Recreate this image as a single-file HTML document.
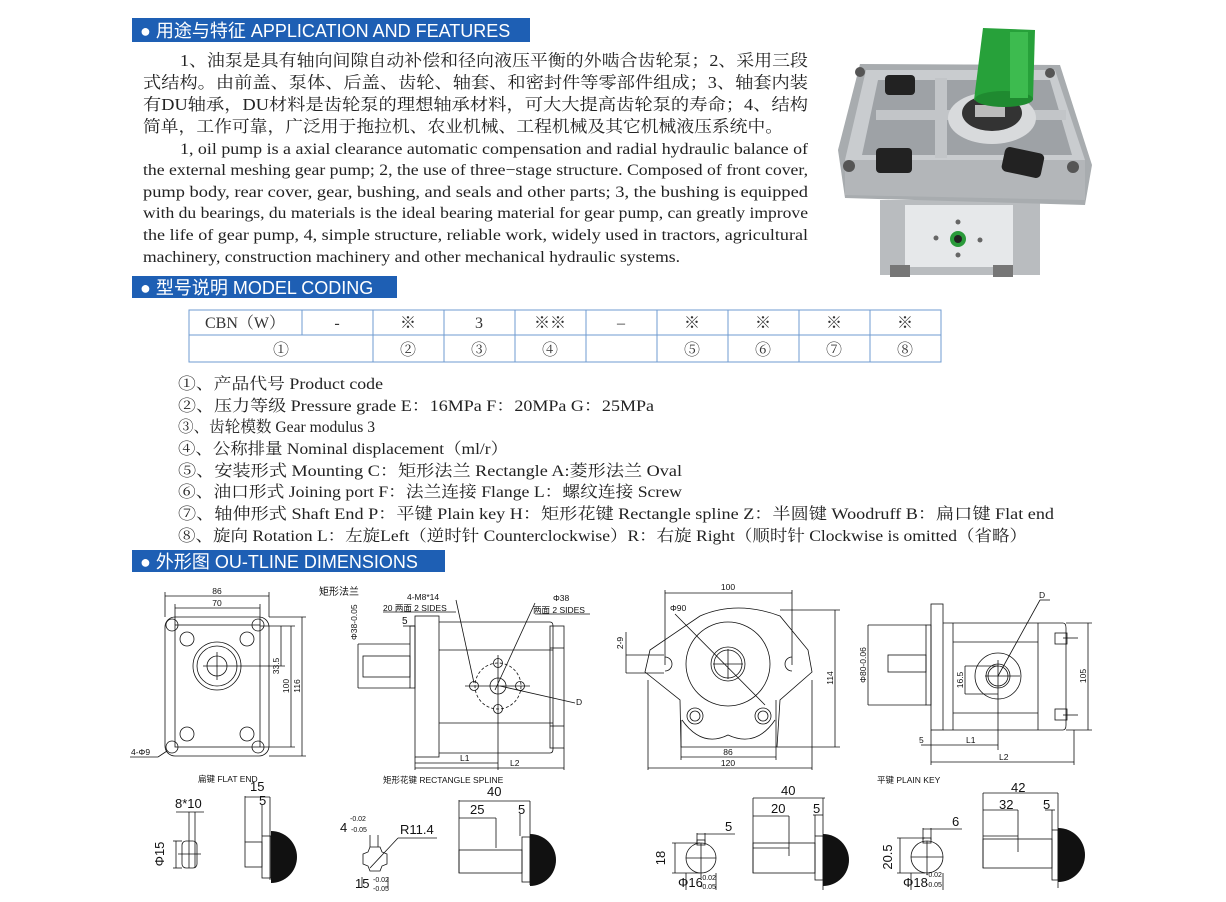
<!DOCTYPE html>
<html><head><meta charset="utf-8"><style>
html,body{margin:0;padding:0;background:#fff;width:1226px;height:902px;overflow:hidden}
svg{display:block}
.hd{font-family:"Liberation Sans","Noto Sans CJK SC",sans-serif;fill:#fff;font-size:18px}
.cn{font-family:"Liberation Serif","Noto Serif CJK SC",serif;font-size:16.5px;fill:#222}
.en{font-family:"Liberation Serif","Noto Serif CJK SC",serif;font-size:16px;fill:#222}
.tb{font-family:"Liberation Serif","Noto Serif CJK SC",serif;font-size:16px;fill:#333}
.s{font-family:"Liberation Sans","Noto Sans CJK SC",sans-serif;font-size:8.5px;fill:#111}
.m{font-family:"Liberation Sans","Noto Sans CJK SC",sans-serif;font-size:13px;fill:#111}
.d line,.d rect,.d circle,.d path,.d polyline{stroke:#111;stroke-width:0.8;fill:none}
</style></head><body>
<svg width="1226" height="902" viewBox="0 0 1226 902" xmlns="http://www.w3.org/2000/svg">
<rect x="132" y="18" width="398" height="24" fill="#1e5fb4"/>
<text class="hd" x="140" y="37">● 用途与特征  APPLICATION AND FEATURES</text>
<rect x="132" y="276" width="265" height="22" fill="#1e5fb4"/>
<text class="hd" x="140" y="294">● 型号说明  MODEL CODING</text>
<rect x="132" y="550" width="313" height="22" fill="#1e5fb4"/>
<text class="hd" x="140" y="568">● 外形图  OU-TLINE DIMENSIONS</text>

<text class="cn" x="180" y="66" textLength="628" lengthAdjust="spacingAndGlyphs">1、油泵是具有轴向间隙自动补偿和径向液压平衡的外啮合齿轮泵；2、采用三段</text>
<text class="cn" x="143" y="88" textLength="665" lengthAdjust="spacingAndGlyphs">式结构。由前盖、泵体、后盖、齿轮、轴套、和密封件等零部件组成；3、轴套内装</text>
<text class="cn" x="143" y="110" textLength="665" lengthAdjust="spacingAndGlyphs">有DU轴承，DU材料是齿轮泵的理想轴承材料，可大大提高齿轮泵的寿命；4、结构</text>
<text class="cn" x="143" y="132" textLength="640" lengthAdjust="spacingAndGlyphs">简单，工作可靠，广泛用于拖拉机、农业机械、工程机械及其它机械液压系统中。</text>
<text class="en" x="180" y="154" textLength="628" lengthAdjust="spacingAndGlyphs">1, oil pump is a axial clearance automatic compensation and radial hydraulic balance of</text>
<text class="en" x="143" y="175" textLength="665" lengthAdjust="spacingAndGlyphs">the external meshing gear pump; 2, the use of three−stage structure. Composed of front cover,</text>
<text class="en" x="143" y="197" textLength="665" lengthAdjust="spacingAndGlyphs">pump body, rear cover, gear, bushing, and seals and other parts; 3, the bushing is equipped</text>
<text class="en" x="143" y="218" textLength="665" lengthAdjust="spacingAndGlyphs">with du bearings, du materials is the ideal bearing material for gear pump, can greatly improve</text>
<text class="en" x="143" y="240" textLength="665" lengthAdjust="spacingAndGlyphs">the life of gear pump, 4, simple structure, reliable work, widely used in tractors, agricultural</text>
<text class="en" x="143" y="262" textLength="537" lengthAdjust="spacingAndGlyphs">machinery, construction machinery and other mechanical hydraulic systems.</text>

<g>
<rect x="880" y="200" width="160" height="75" fill="#b9bcbf"/>
<rect x="905" y="205" width="108" height="62" fill="#e6e8ea"/>
<rect x="890" y="265" width="20" height="12" fill="#777"/><rect x="993" y="265" width="20" height="12" fill="#777"/>
<path d="M860 64 L1060 65 L1092 165 L1085 205 L845 198 L838 150 Z" fill="#a8acaf"/>
<path d="M866 70 L1055 70 L1085 160 L845 160 Z" fill="#c9cccf"/>
<path d="M845 160 L1085 160 L1085 200 L845 195 Z" fill="#b3b6b9"/>
<path d="M878 80 L1050 80 L1072 155 L862 155 Z" fill="#9ea2a6"/>
<rect x="876" y="110" width="190" height="10" fill="#c2c5c8"/>
<rect x="935" y="78" width="12" height="80" fill="#c2c5c8"/>
<rect x="885" y="75" width="30" height="20" rx="4" fill="#222"/>
<rect x="876" y="148" width="36" height="25" rx="4" fill="#222"/>
<rect x="1003" y="150" width="40" height="25" rx="5" fill="#222" transform="rotate(12 1023 162)"/>
<ellipse cx="992" cy="118" rx="44" ry="26" fill="#d8dadc"/>
<ellipse cx="992" cy="113" rx="30" ry="18" fill="#333"/>
<rect x="975" y="105" width="30" height="12" fill="#bbb"/>
<path d="M983 28 L1035 30 L1033 100 Q1008 110 974 100 Z" fill="#27a13a"/>
<ellipse cx="1004" cy="99" rx="29" ry="8" fill="#1f8a30"/>
<rect x="1010" y="32" width="18" height="66" fill="#3dbb4f"/>
<circle cx="958" cy="239" r="8" fill="#2a9a3a"/><circle cx="958" cy="239" r="4" fill="#222"/>
<circle cx="958" cy="222" r="2.5" fill="#666"/><circle cx="958" cy="255" r="2.5" fill="#666"/>
<circle cx="936" cy="238" r="2.5" fill="#666"/><circle cx="980" cy="240" r="2.5" fill="#666"/>
<circle cx="860" cy="72" r="5" fill="#555"/><circle cx="1050" cy="73" r="5" fill="#555"/>
<circle cx="849" cy="166" r="6" fill="#555"/><circle cx="1073" cy="167" r="6" fill="#555"/>
</g>

<g stroke="#6f9bd0" stroke-width="1" fill="none">
<rect x="189" y="310" width="752" height="52"/>
<line x1="189" y1="335" x2="941" y2="335"/>
<line x1="302" y1="310" x2="302" y2="335"/>
<line x1="373" y1="310" x2="373" y2="362"/><line x1="444" y1="310" x2="444" y2="362"/>
<line x1="515" y1="310" x2="515" y2="362"/><line x1="586" y1="310" x2="586" y2="362"/>
<line x1="657" y1="310" x2="657" y2="362"/><line x1="728" y1="310" x2="728" y2="362"/>
<line x1="799" y1="310" x2="799" y2="362"/><line x1="870" y1="310" x2="870" y2="362"/>
</g>
<g class="tb" text-anchor="middle">
<text x="245" y="328">CBN（W）</text><text x="337" y="328">-</text><text x="408" y="328">※</text><text x="479" y="328">3</text>
<text x="550" y="328">※※</text><text x="621" y="328">–</text><text x="692" y="328">※</text><text x="763" y="328">※</text>
<text x="834" y="328">※</text><text x="905" y="328">※</text>
<text x="281" y="355">①</text><text x="408" y="355">②</text><text x="479" y="355">③</text><text x="550" y="355">④</text>
<text x="692" y="355">⑤</text><text x="763" y="355">⑥</text><text x="834" y="355">⑦</text><text x="905" y="355">⑧</text>
</g>

<g class="en">
<text x="178" y="389" textLength="205" lengthAdjust="spacingAndGlyphs">①、产品代号 Product code</text>
<text x="178" y="411" textLength="476" lengthAdjust="spacingAndGlyphs">②、压力等级 Pressure grade E：16MPa  F：20MPa  G：25MPa</text>
<text x="178" y="432" textLength="197" lengthAdjust="spacingAndGlyphs">③、齿轮模数 Gear modulus 3</text>
<text x="178" y="454" textLength="330" lengthAdjust="spacingAndGlyphs">④、公称排量 Nominal displacement（ml/r）</text>
<text x="178" y="476" textLength="504" lengthAdjust="spacingAndGlyphs">⑤、安装形式 Mounting  C：矩形法兰 Rectangle   A:菱形法兰 Oval</text>
<text x="178" y="497" textLength="504" lengthAdjust="spacingAndGlyphs">⑥、油口形式 Joining port F：法兰连接 Flange L：螺纹连接 Screw</text>
<text x="178" y="519" textLength="876" lengthAdjust="spacingAndGlyphs">⑦、轴伸形式 Shaft End  P：平键 Plain key  H：矩形花键 Rectangle spline  Z：半圆键 Woodruff  B：扁口键 Flat end</text>
<text x="178" y="541" textLength="849" lengthAdjust="spacingAndGlyphs">⑧、旋向 Rotation L：左旋Left（逆时针 Counterclockwise）R：右旋 Right（顺时针 Clockwise is omitted（省略）</text>
</g>

<g class="d">
<rect x="165" y="617" width="104" height="139" rx="10"/>
<rect x="175" y="625" width="85" height="122"/>
<circle cx="172" cy="625" r="6"/><circle cx="258" cy="625" r="6"/><circle cx="172" cy="747" r="6"/><circle cx="258" cy="747" r="6"/>
<circle cx="187" cy="639" r="7"/><circle cx="247" cy="639" r="7"/><circle cx="187" cy="734" r="7"/><circle cx="247" cy="734" r="7"/>
<circle cx="217" cy="666" r="24"/><circle cx="217" cy="666" r="20"/><circle cx="217" cy="666" r="10"/>
<line x1="203" y1="666" x2="231" y2="666"/><line x1="217" y1="652" x2="217" y2="680"/>
<line x1="165" y1="596" x2="269" y2="596"/><line x1="165" y1="592" x2="165" y2="617"/><line x1="269" y1="592" x2="269" y2="617"/>
<line x1="175" y1="608" x2="260" y2="608"/><line x1="175" y1="604" x2="175" y2="625"/><line x1="260" y1="604" x2="260" y2="625"/>
<line x1="281" y1="626" x2="281" y2="666"/><line x1="291" y1="626" x2="291" y2="747"/><line x1="302" y1="617" x2="302" y2="756"/>
<line x1="260" y1="626" x2="295" y2="626"/><line x1="231" y1="666" x2="285" y2="666"/><line x1="260" y1="747" x2="295" y2="747"/><line x1="269" y1="617" x2="306" y2="617"/><line x1="269" y1="756" x2="306" y2="756"/>
<line x1="130" y1="757" x2="158" y2="757"/><line x1="158" y1="757" x2="167" y2="751"/>
<rect x="415" y="616" width="24" height="141"/>
<rect x="410" y="626" width="5" height="62"/>
<rect x="363" y="656" width="47" height="21"/>
<line x1="358" y1="644" x2="410" y2="644"/><line x1="358" y1="688" x2="410" y2="688"/><line x1="358" y1="644" x2="358" y2="688"/>
<path d="M439 622 L550 622 Q553 622 553 626 L553 749 Q553 753 550 753 L439 753"/>
<line x1="439" y1="650" x2="553" y2="650"/><line x1="439" y1="723" x2="553" y2="723"/>
<rect x="550" y="626" width="14" height="122"/>
<line x1="550" y1="648" x2="564" y2="648"/><line x1="550" y1="726" x2="564" y2="726"/>
<circle cx="498" cy="686" r="23" stroke-dasharray="3,2"/>
<circle cx="498" cy="686" r="8"/><circle cx="498" cy="663" r="4.5"/><circle cx="474" cy="686" r="4.5"/><circle cx="520" cy="686" r="4.5"/><circle cx="498" cy="709" r="4.5"/>
<line x1="498" y1="655" x2="498" y2="770"/><line x1="465" y1="686" x2="530" y2="686"/>
<line x1="456" y1="600" x2="474" y2="683"/><line x1="535" y1="603" x2="495" y2="690"/>
<line x1="383" y1="612" x2="456" y2="612"/><line x1="535" y1="614" x2="590" y2="614"/>
<line x1="500" y1="686" x2="575" y2="703"/>
<line x1="415" y1="763" x2="498" y2="763"/><line x1="415" y1="768" x2="564" y2="768"/><line x1="415" y1="757" x2="415" y2="770"/><line x1="564" y1="748" x2="564" y2="770"/>
<line x1="403" y1="626" x2="415" y2="626"/>
<rect x="182" y="841" width="15" height="27" rx="4"/>
<line x1="178" y1="854" x2="201" y2="854"/><line x1="189" y1="812" x2="189" y2="868"/><line x1="195" y1="812" x2="195" y2="868"/>
<line x1="173" y1="841" x2="182" y2="841"/><line x1="173" y1="868" x2="182" y2="868"/><line x1="176" y1="841" x2="176" y2="868"/>
<line x1="176" y1="812" x2="204" y2="812"/>
<rect x="245" y="842" width="17" height="25"/><rect x="262" y="836" width="9" height="42"/>
<line x1="245" y1="796" x2="245" y2="842"/><line x1="245" y1="797" x2="270" y2="797"/><line x1="262" y1="805" x2="262" y2="836"/><line x1="270" y1="797" x2="270" y2="880"/>
<path d="M370 847 L380 847 L382 852 L387 854 L387 864 L382 866 L380 871 L370 871 L368 866 L363 864 L363 854 L368 852 Z"/>
<line x1="370" y1="835" x2="370" y2="847"/><line x1="378" y1="835" x2="378" y2="847"/>
<line x1="362" y1="877" x2="362" y2="888"/><line x1="388" y1="877" x2="388" y2="888"/>
<line x1="370" y1="868" x2="398" y2="838"/><line x1="398" y1="838" x2="437" y2="838"/>
<rect x="459" y="850" width="63" height="23"/>
<line x1="459" y1="800" x2="459" y2="873"/><line x1="459" y1="801" x2="530" y2="801"/><line x1="459" y1="818" x2="496" y2="818"/><line x1="496" y1="818" x2="496" y2="848"/>
<rect x="522" y="837" width="8" height="45"/><line x1="520" y1="814" x2="520" y2="836"/><line x1="530" y1="801" x2="530" y2="885"/>
<path d="M650 650 L700 616 Q737 600 780 616 L808 650 L812 672 L780 700 L777 747 L681 747 L680 700 L645 672 Z"/>
<path d="M682 720 Q702 748 728 735 Q756 748 775 720"/>
<circle cx="728" cy="664" r="42"/><circle cx="728" cy="664" r="17"/><circle cx="728" cy="664" r="14"/>
<line x1="713" y1="664" x2="743" y2="664"/><line x1="728" y1="649" x2="728" y2="679"/>
<line x1="675" y1="614" x2="765" y2="705"/>
<path d="M665 657 A7 7 0 0 1 665 671 M792 657 A7 7 0 0 0 792 671"/>
<circle cx="695" cy="716" r="8"/><circle cx="695" cy="716" r="5"/><circle cx="763" cy="716" r="8"/><circle cx="763" cy="716" r="5"/>
<line x1="665" y1="593" x2="792" y2="593"/><line x1="665" y1="590" x2="665" y2="665"/><line x1="792" y1="590" x2="792" y2="665"/>
<line x1="780" y1="610" x2="840" y2="610"/><line x1="835" y1="610" x2="835" y2="747"/><line x1="777" y1="747" x2="840" y2="747"/>
<line x1="681" y1="757" x2="776" y2="757"/><line x1="681" y1="720" x2="681" y2="760"/><line x1="776" y1="700" x2="776" y2="760"/>
<line x1="648" y1="768" x2="812" y2="768"/><line x1="648" y1="680" x2="648" y2="770"/><line x1="812" y1="680" x2="812" y2="770"/>
<line x1="626" y1="655" x2="664" y2="655"/><line x1="626" y1="673" x2="664" y2="673"/><line x1="626" y1="632" x2="626" y2="673"/>
<rect x="931" y="604" width="12" height="126"/>
<rect x="926" y="625" width="5" height="80"/>
<rect x="888" y="655" width="38" height="17"/>
<path d="M943 623 L1063 623 Q1066 623 1066 628 L1066 725 Q1066 730 1063 730 L943 730"/>
<line x1="953" y1="623" x2="953" y2="730"/><line x1="1038" y1="623" x2="1038" y2="730"/>
<line x1="953" y1="642" x2="1038" y2="642"/><line x1="953" y1="713" x2="1038" y2="713"/>
<rect x="1055" y="633" width="12" height="11"/><rect x="1055" y="709" width="12" height="11"/>
<line x1="1063" y1="638" x2="1078" y2="638"/><line x1="1063" y1="715" x2="1078" y2="715"/>
<circle cx="998" cy="676" r="23"/><circle cx="998" cy="676" r="12"/><circle cx="998" cy="676" r="10"/>
<line x1="985" y1="676" x2="1020" y2="676"/><line x1="998" y1="660" x2="998" y2="750"/>
<line x1="998" y1="676" x2="1040" y2="600"/><line x1="1040" y1="600" x2="1050" y2="600"/>
<line x1="868" y1="625" x2="926" y2="625"/><line x1="868" y1="705" x2="926" y2="705"/><line x1="868" y1="625" x2="868" y2="705"/>
<line x1="965" y1="666" x2="998" y2="666"/><line x1="965" y1="694" x2="998" y2="694"/><line x1="965" y1="666" x2="965" y2="694"/>
<line x1="1066" y1="623" x2="1092" y2="623"/><line x1="1066" y1="730" x2="1092" y2="730"/><line x1="1088" y1="623" x2="1088" y2="730"/>
<line x1="931" y1="745" x2="998" y2="745"/><line x1="931" y1="762" x2="1074" y2="762"/><line x1="931" y1="730" x2="931" y2="765"/><line x1="1074" y1="730" x2="1074" y2="765"/>
<line x1="921" y1="745" x2="931" y2="745"/>
<circle cx="701" cy="858" r="15"/><rect x="697" y="840" width="8" height="5"/>
<line x1="686" y1="858" x2="716" y2="858"/><line x1="701" y1="843" x2="701" y2="877"/>
<line x1="697" y1="833" x2="697" y2="843"/><line x1="705" y1="833" x2="705" y2="843"/><line x1="697" y1="834" x2="735" y2="834"/>
<line x1="672" y1="843" x2="700" y2="843"/><line x1="672" y1="873" x2="700" y2="873"/><line x1="675" y1="843" x2="675" y2="873"/>
<line x1="686" y1="873" x2="686" y2="890"/><line x1="716" y1="873" x2="716" y2="890"/>
<rect x="753" y="843" width="62" height="30"/><line x1="753" y1="798" x2="753" y2="873"/><line x1="753" y1="798" x2="825" y2="798"/>
<line x1="753" y1="816" x2="789" y2="816"/><line x1="789" y1="816" x2="789" y2="856"/><line x1="753" y1="848" x2="789" y2="848"/>
<rect x="815" y="836" width="8" height="44"/><line x1="813" y1="815" x2="823" y2="815"/><line x1="815" y1="815" x2="815" y2="836"/><line x1="823" y1="798" x2="823" y2="890"/>
<circle cx="927" cy="857" r="16"/><rect x="923" y="838" width="8" height="5"/>
<line x1="911" y1="857" x2="943" y2="857"/><line x1="927" y1="841" x2="927" y2="875"/>
<line x1="923" y1="828" x2="923" y2="840"/><line x1="931" y1="828" x2="931" y2="840"/><line x1="923" y1="829" x2="962" y2="829"/>
<line x1="897" y1="838" x2="925" y2="838"/><line x1="897" y1="873" x2="925" y2="873"/><line x1="900" y1="838" x2="900" y2="873"/>
<line x1="911" y1="873" x2="911" y2="890"/><line x1="943" y1="873" x2="943" y2="890"/>
<rect x="983" y="839" width="69" height="29"/><line x1="983" y1="793" x2="983" y2="868"/><line x1="983" y1="793" x2="1058" y2="793"/>
<line x1="983" y1="810" x2="1018" y2="810"/><line x1="1018" y1="810" x2="1018" y2="852"/><line x1="983" y1="836" x2="1018" y2="836"/>
<rect x="1052" y="830" width="6" height="50"/><line x1="1045" y1="810" x2="1055" y2="810"/><line x1="1052" y1="810" x2="1052" y2="830"/><line x1="1058" y1="793" x2="1058" y2="888"/>
</g>
<path d="M271 831 A26 26 0 0 1 271 883 Z" fill="#111"/>
<path d="M530 834 A26 26 0 0 1 530 886 Z" fill="#111"/>
<path d="M823 834 A26 26 0 0 1 823 886 Z" fill="#111"/>
<path d="M1058 828 A27 27 0 0 1 1058 882 Z" fill="#111"/>

<g class="s">
<text x="217" y="594" text-anchor="middle">86</text><text x="217" y="606" text-anchor="middle">70</text>
<text transform="translate(279,666) rotate(-90)" text-anchor="middle">33.5</text>
<text transform="translate(289,686) rotate(-90)" text-anchor="middle">100</text>
<text transform="translate(300,686) rotate(-90)" text-anchor="middle">116</text>
<text x="131" y="755">4-Φ9</text>
<text x="319" y="595" font-size="10">矩形法兰</text>
<text x="407" y="600">4-M8*14</text>
<text x="383" y="611">20 两面 2 SIDES</text>
<text x="553" y="601">Φ38</text>
<text x="533" y="613">两面 2 SIDES</text>
<text x="402" y="624" font-size="10">5</text>
<text transform="translate(357,640) rotate(-90)">Φ38-0.05</text>
<text x="576" y="705">D</text>
<text x="460" y="761">L1</text><text x="510" y="766">L2</text>
<text x="198" y="782">扁键 FLAT END</text>
<text x="383" y="783">矩形花键  RECTANGLE  SPLINE</text>
<text x="728" y="590" text-anchor="middle">100</text>
<text x="670" y="611">Φ90</text>
<text transform="translate(833,678) rotate(-90)" text-anchor="middle">114</text>
<text x="728" y="755" text-anchor="middle">86</text><text x="728" y="766" text-anchor="middle">120</text>
<text transform="translate(623,643) rotate(-90)" text-anchor="middle">2-9</text>
<text x="1039" y="598">D</text>
<text transform="translate(866,665) rotate(-90)" text-anchor="middle">Φ80-0.06</text>
<text transform="translate(963,680) rotate(-90)" text-anchor="middle">16.5</text>
<text transform="translate(1086,676) rotate(-90)" text-anchor="middle">105</text>
<text x="919" y="743">5</text><text x="966" y="743">L1</text><text x="999" y="760">L2</text>
<text x="877" y="783">平键 PLAIN KEY</text>
<text x="350" y="821" font-size="7">-0.02</text><text x="351" y="832" font-size="7">-0.05</text>
<text x="373" y="882" font-size="7">-0.02</text><text x="373" y="891" font-size="7">-0.05</text>
<text x="700" y="880" font-size="7">-0.02</text><text x="700" y="889" font-size="7">-0.05</text>
<text x="926" y="877" font-size="7">-0.02</text><text x="926" y="887" font-size="7">-0.05</text>
</g>
<g class="m">
<text x="250" y="791">15</text><text x="259" y="805">5</text><text x="175" y="808">8*10</text>
<text transform="translate(164,854) rotate(-90)" text-anchor="middle">Φ15</text>
<text x="340" y="832">4</text><text x="400" y="834">R11.4</text><text x="355" y="888">15</text>
<text x="487" y="796">40</text><text x="470" y="814">25</text><text x="518" y="814">5</text>
<text x="725" y="831">5</text><text transform="translate(665,858) rotate(-90)" text-anchor="middle">18</text>
<text x="678" y="887">Φ16</text>
<text x="781" y="795">40</text><text x="771" y="813">20</text><text x="813" y="813">5</text>
<text x="952" y="826">6</text><text transform="translate(892,857) rotate(-90)" text-anchor="middle">20.5</text>
<text x="903" y="887">Φ18</text>
<text x="1011" y="792">42</text><text x="999" y="809">32</text><text x="1043" y="809">5</text>
</g>
</svg>
</body></html>
